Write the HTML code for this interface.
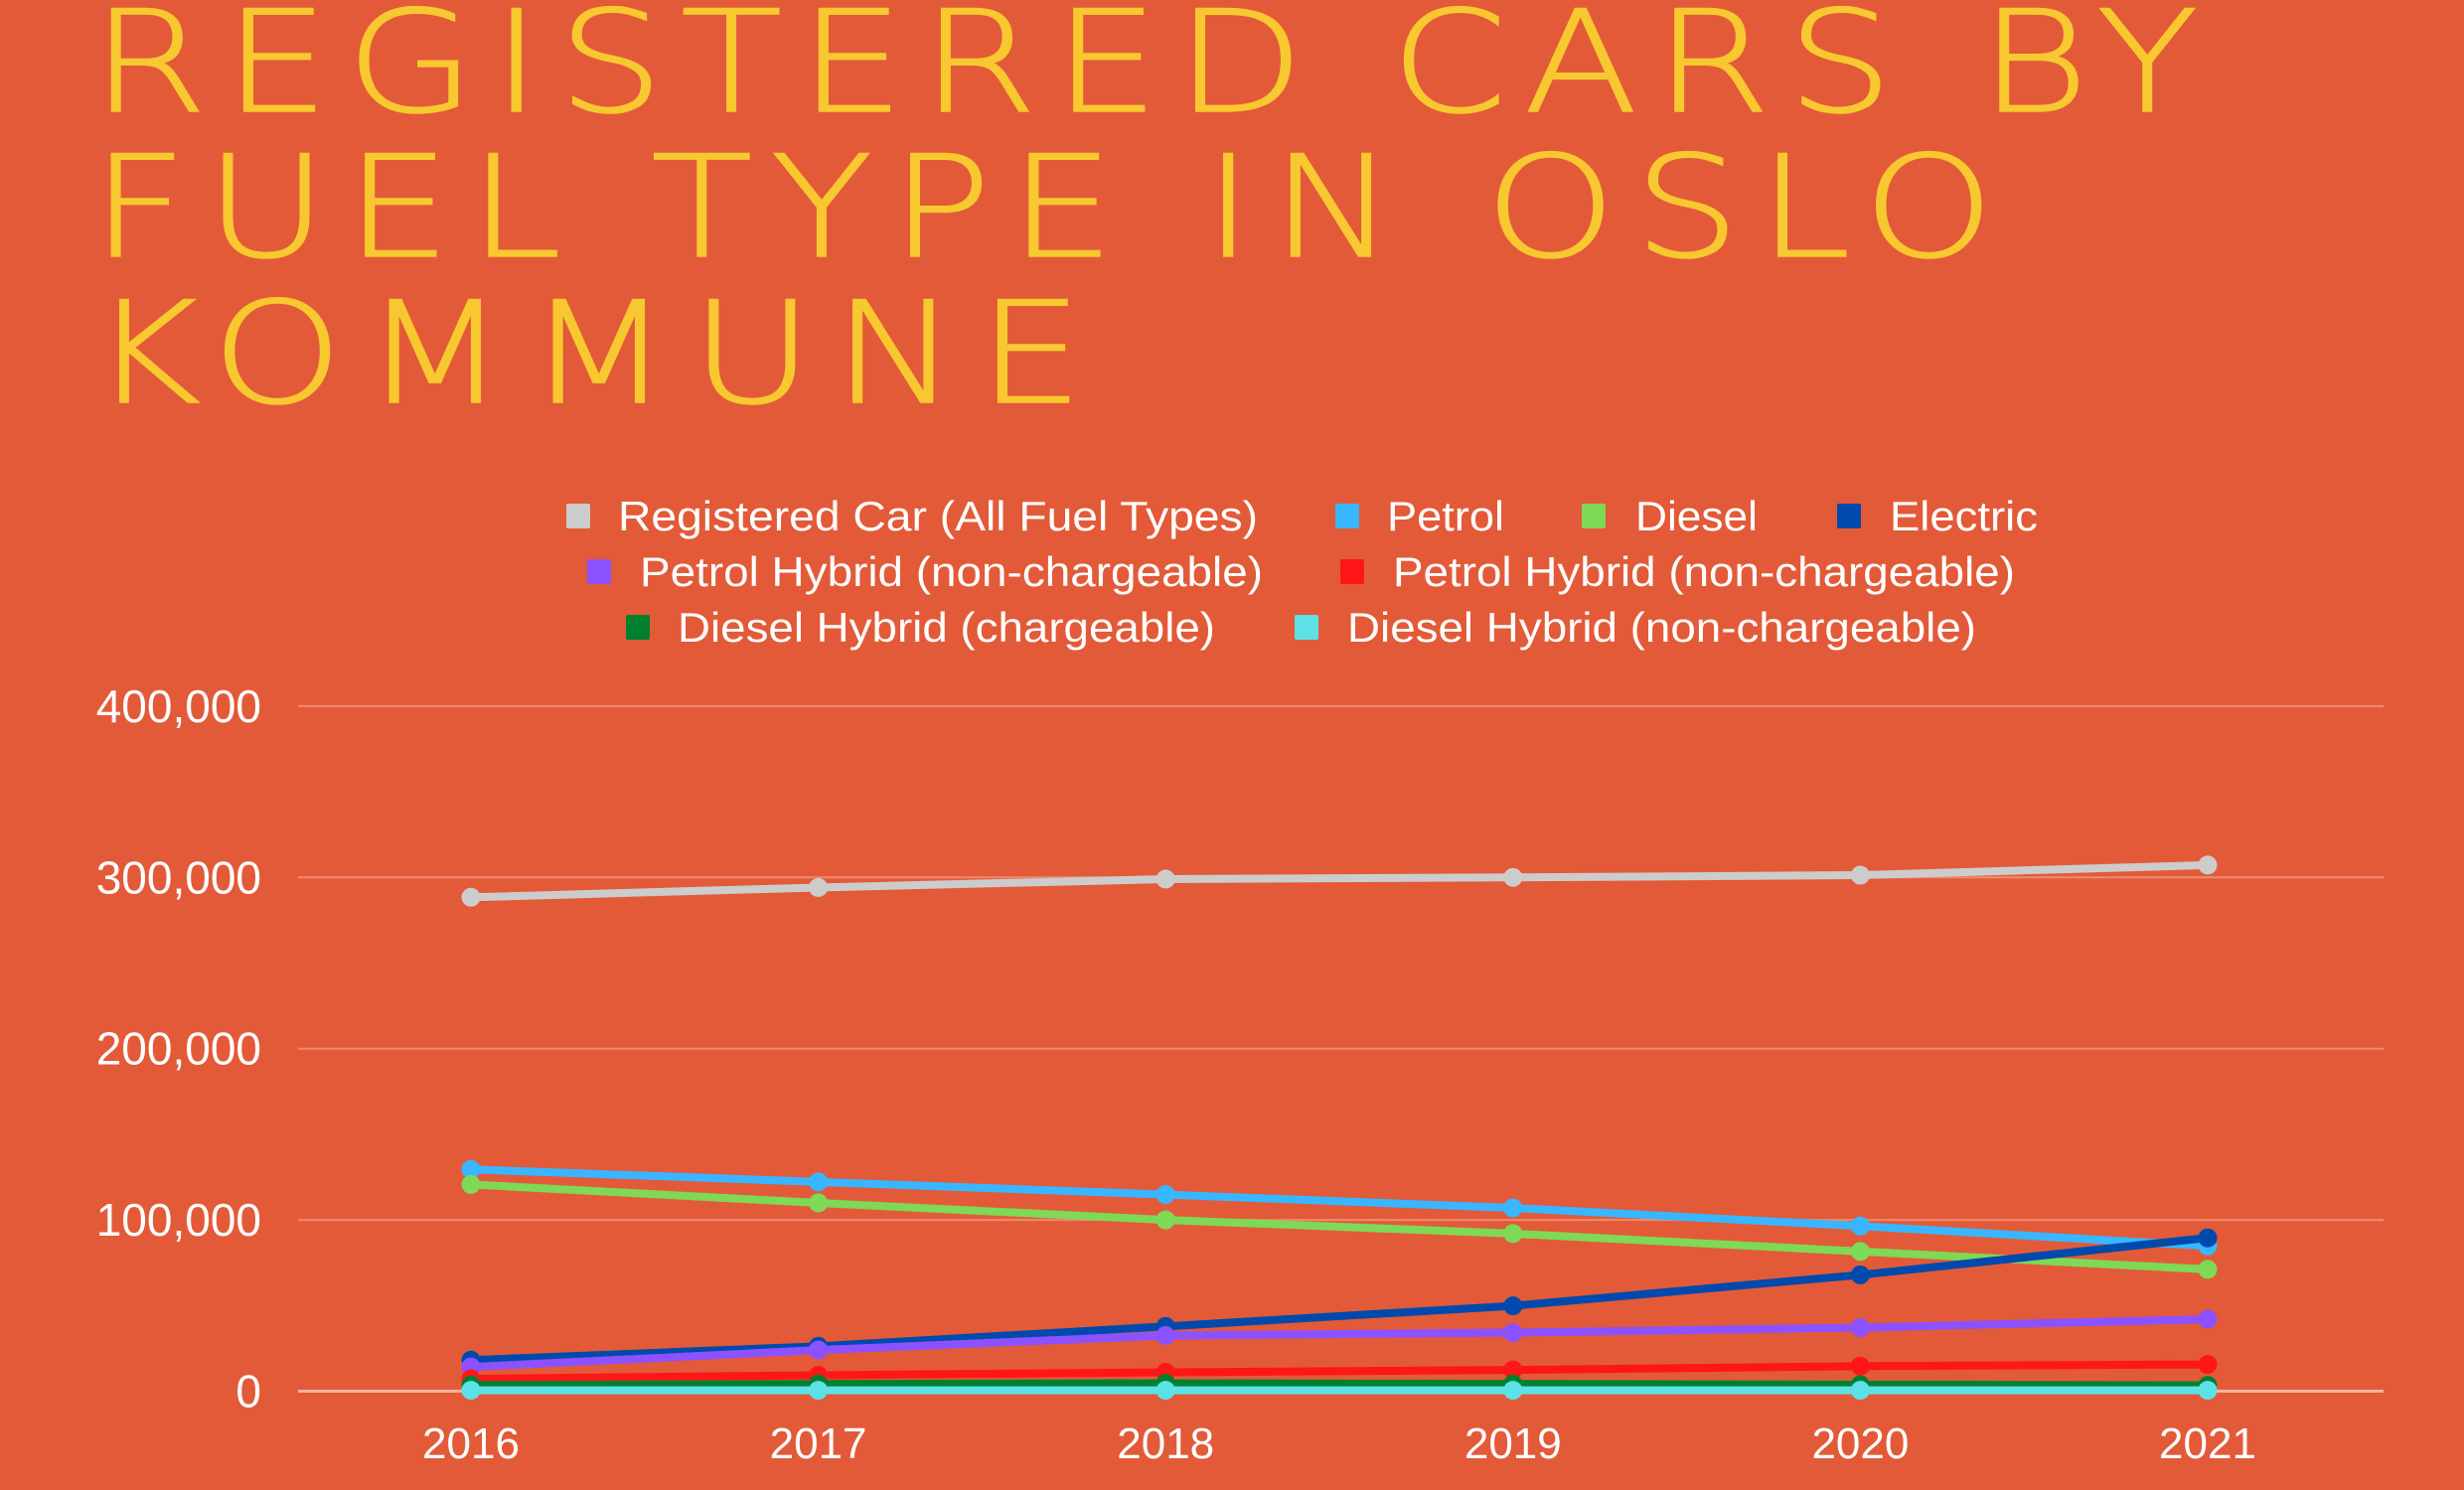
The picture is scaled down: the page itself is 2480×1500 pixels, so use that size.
<!DOCTYPE html>
<html><head><meta charset="utf-8"><style>
html,body{margin:0;padding:0;background:#E35A38;}
svg{display:block;}
text{font-family:"Liberation Sans",sans-serif;}
.title{font-family:"DejaVu Sans","Liberation Sans",sans-serif;font-weight:200;}
</style></head><body>
<svg id="chart" width="2480" height="1500" viewBox="0 0 2480 1500" xmlns="http://www.w3.org/2000/svg">
<rect width="2480" height="1500" fill="#E35A38"/>
<g class="title" fill="#F7C830" font-size="142" transform="translate(92,0) scale(1.18,1)" stroke="#F7C830" stroke-width="1.5">
<text class="title" x="0" y="112" textLength="1797" lengthAdjust="spacing">REGISTERED CARS BY</text>
<text class="title" x="0" y="258" textLength="1623" lengthAdjust="spacing">FUEL TYPE IN OSLO</text>
<text class="title" x="0" y="405" textLength="846" lengthAdjust="spacing">KOMMUNE</text>
</g>
<g id="legend"></g>
<g id="grid"></g>
<g id="yticks"></g>
<g id="xticks"></g>
<g id="series"></g>
</svg>
<script>
const categories = ["2016","2017","2018","2019","2020","2021"];
const yTicks = [0,100000,200000,300000,400000];
const yTickLabels = ["0","100,000","200,000","300,000","400,000"];
const seriesNames = ["Registered Car (All Fuel Types)","Petrol","Diesel","Electric","Petrol Hybrid (non-chargeable)","Petrol Hybrid (non-chargeable)","Diesel Hybrid (chargeable)","Diesel Hybrid (non-chargeable)"];
const seriesColors = ["#CCCCCC","#38B6FF","#7ED957","#004AAD","#8C52FF","#FF1616","#00802F","#5CE1E6"];
const allFuel = [288400,294100,299000,300000,301300,307200];
const petrol = [129500,122200,114800,107000,96400,84800];
const diesel = [120700,109900,100000,92000,81600,71100];
const electric = [18100,26200,37800,49800,67900,89500];
const petrolHybrid = [14100,24000,32500,34200,37100,42000];
const petrolHybrid2 = [7200,9300,11000,12400,14600,15600];
const dieselHybridCharge = [3600,4200,4600,4200,3800,3400];
const dieselHybridNon = [500,500,500,500,500,500];
const seriesValues = [allFuel,petrol,diesel,electric,petrolHybrid,petrolHybrid2,dieselHybridCharge,dieselHybridNon];

const NS="http://www.w3.org/2000/svg";
const X0=474, XSTEP=349.6, Y0=1400.5, YPER=172.4/100000;
function xScale(i){return X0+i*XSTEP;}
function yScale(v){return Y0-v*YPER;}
function mk(tag,attrs,parent){const e=document.createElementNS(NS,tag);for(const k in attrs)e.setAttribute(k,attrs[k]);parent.appendChild(e);return e;}

const grid=document.getElementById('grid'), yt=document.getElementById('yticks'), xt=document.getElementById('xticks'), sg=document.getElementById('series'), lg=document.getElementById('legend');
yTicks.forEach((v,i)=>{
  const l=mk('line',{x1:300,x2:2399,y1:yScale(v),y2:yScale(v),stroke:i===0?"#F2B3A2":"#EE8B70","stroke-width":i===0?3:2},grid);
  
  
  const t=mk('text',{x:263,y:yScale(v)+16,"text-anchor":"end",fill:"#FFFFFF","font-size":46},yt);
  t.textContent=yTickLabels[i];
  
  
});
categories.forEach((c,i)=>{
  const t=mk('text',{x:xScale(i),y:1468,"text-anchor":"middle",fill:"#FFFFFF","font-size":44},xt);
  t.textContent=c;
  
  
});
seriesValues.forEach((vals,s)=>{
  const g=mk('g',{},sg);
  
  
  const pts=vals.map((v,i)=>xScale(i)+","+yScale(v)).join(" ");
  const pl=mk('polyline',{points:pts,fill:"none",stroke:seriesColors[s],"stroke-width":8,"stroke-linejoin":"round"},g);
  
  
  vals.forEach((v,i)=>{
    const c=mk('circle',{cx:xScale(i),cy:yScale(v),r:9.5,fill:seriesColors[s]},g);
    
    
  });
});
const legendRows=[[570,622,644,520],[1344,1396,118,520],[1592,1646,123,520],[1849,1902,149,520],
 [591,644,627,576],[1349,1402,626,576],[630,682,541,632],[1303,1356,633,632]];
legendRows.forEach((r,i)=>{
  const g=mk('g',{},lg);
  
  
  mk('rect',{x:r[0],y:r[3]-13,width:24,height:25,rx:2,fill:seriesColors[i]},g);
  const t=mk('text',{x:r[1],y:r[3]+14,fill:"#FFFFFF","font-size":42,textLength:r[2],lengthAdjust:"spacingAndGlyphs"},g);
  t.textContent=seriesNames[i];
});
</script>
</body></html>
